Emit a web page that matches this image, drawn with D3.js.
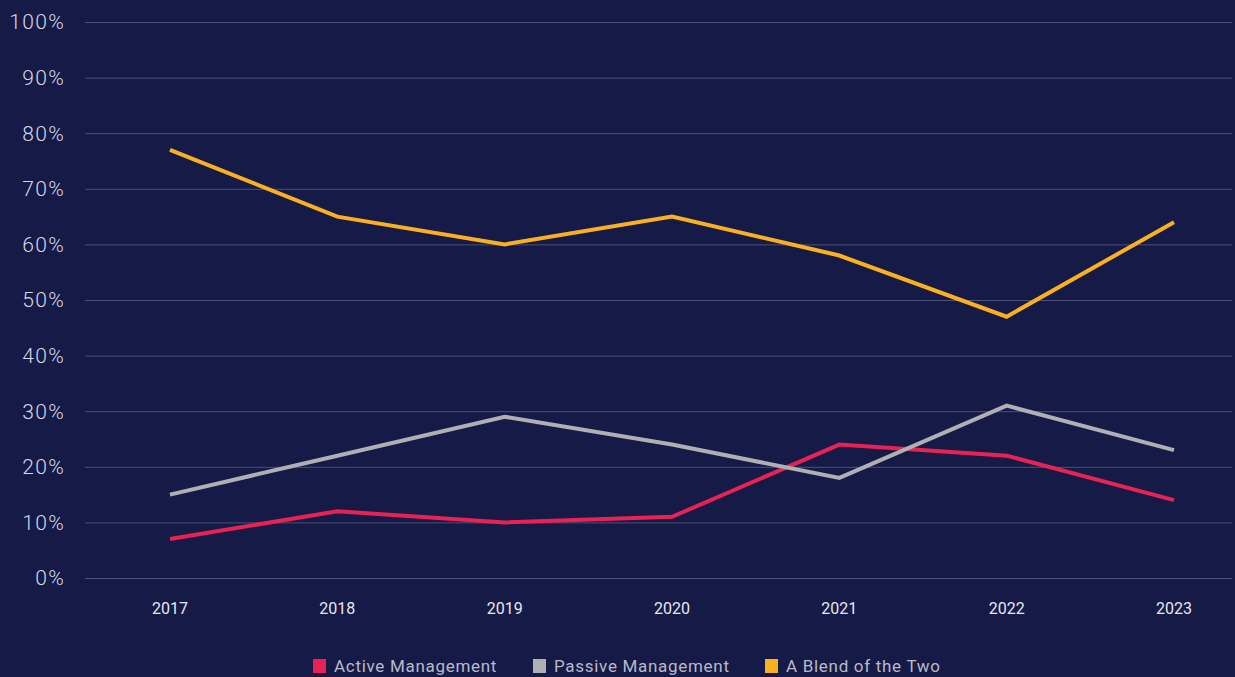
<!DOCTYPE html>
<html><head>
<meta charset="UTF-8">
<title>Management preference</title>
<script src="https://d3js.org/d3.v7.min.js"></script>
<style>
  html, body { margin: 0; padding: 0; background: #151a46; }
  .grid line { stroke: #4c5179; stroke-width: 1px; }
  .ylab { fill: #d6d8e4; font-family: Roboto, sans-serif; font-weight: 300; font-size: 21px; letter-spacing: 1.3px; }
  .xlab { fill: #e6e7ef; font-family: Roboto, sans-serif; font-size: 16px; }
  .legend text { fill: #b9bac6; font-family: Roboto, sans-serif; font-size: 17px; letter-spacing: 0.7px; }
  .line { fill: none; stroke-width: 4px; stroke-linejoin: miter; }
</style>
</head>
<body>
<script type="text/javascript">

// data
var years = ["2017", "2018", "2019", "2020", "2021", "2022", "2023"];
var active  = [7, 12, 10, 11, 24, 22, 14];
var passive = [15, 22, 29, 24, 18, 31, 23];
var blend   = [77, 65, 60, 65, 58, 47, 64];
var yTicks  = [0, 10, 20, 30, 40, 50, 60, 70, 80, 90, 100];

var seriesNames  = ["Active Management", "Passive Management", "A Blend of the Two"];
var seriesColors = ["#e72355", "#afafb4", "#fbb022"];

var width = 1235, height = 677;

var svg = d3.select("body").append("svg")
    .attr("width", width)
    .attr("height", height)
    .style("background", "#151a46");

var xScale = d3.scalePoint()
    .domain(years)
    .range([170, 1174]);

var yScale = d3.scaleLinear()
    .domain([0, 100])
    .range([578, 22]);

// gridlines
svg.append("g").attr("class", "grid")
  .selectAll("line").data(yTicks).enter()
  .append("line")
    .attr("x1", 85).attr("x2", 1232)
    .attr("y1", function(d){ return yScale(d) + 0.5; })
    .attr("y2", function(d){ return yScale(d) + 0.5; });

// y labels
svg.append("g")
  .selectAll("text").data(yTicks).enter()
  .append("text")
    .attr("class", "ylab")
    .attr("x", 65)
    .attr("y", function(d){ return yScale(d); })
    .attr("dy", "0.35em")
    .attr("text-anchor", "end")
    .text(function(d){ return d + "%"; });

// x labels
svg.append("g")
  .selectAll("text").data(years).enter()
  .append("text")
    .attr("class", "xlab")
    .attr("x", function(d){ return xScale(d); })
    .attr("y", 614)
    .attr("text-anchor", "middle")
    .text(function(d){ return d; });

var valueline = d3.line()
    .x(function(d, i){ return xScale(years[i]); })
    .y(function(d){ return yScale(d); });

[active, passive, blend].forEach(function(s, i){
  svg.append("path")
    .datum(s)
    .attr("class", "line")
    .attr("stroke", seriesColors[i])
    .attr("d", valueline);
});

// legend
var legendX = [313, 533, 765];
var legend = svg.append("g").attr("class", "legend")
  .selectAll("g").data(seriesNames).enter()
  .append("g")
    .attr("transform", function(d, i){ return "translate(" + legendX[i] + ",659)"; });

legend.append("rect")
    .attr("width", 13).attr("height", 14)
    .attr("fill", function(d, i){ return seriesColors[i]; });

legend.append("text")
    .attr("x", 21).attr("y", 7)
    .attr("dy", "0.36em")
    .text(function(d){ return d; });

</script>
</body>
</html>
